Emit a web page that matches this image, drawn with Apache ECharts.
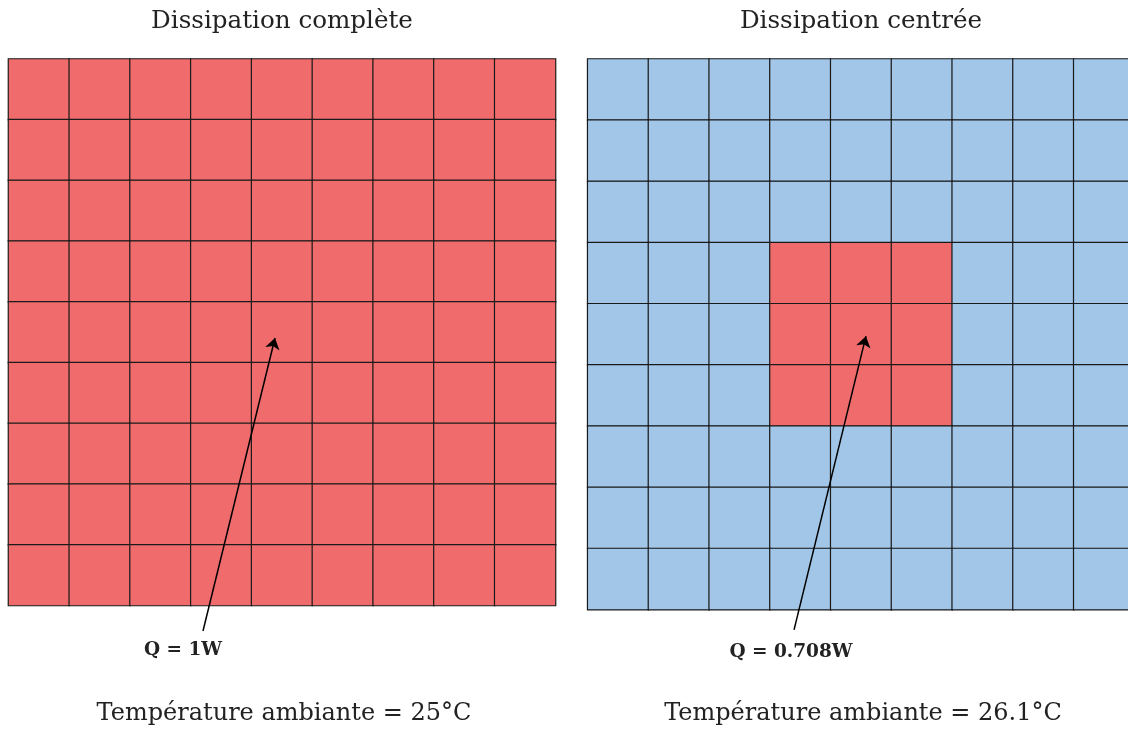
<!DOCTYPE html>
<html><head><meta charset="utf-8">
<script src="https://cdn.jsdelivr.net/npm/echarts@6/dist/echarts.min.js"></script>
<style>html,body{margin:0;padding:0;background:#fff}#c{width:1128px;height:729px}</style>
</head><body><div id="c"></div>
<script>
// ---- data ----
const columns = ['1','2','3','4','5','6','7','8','9'];
const rows = ['1','2','3','4','5','6','7','8','9'];
// 1 = dissipating cell, 0 = passive cell
const fullDissipation = [
  [1,1,1,1,1,1,1,1,1],
  [1,1,1,1,1,1,1,1,1],
  [1,1,1,1,1,1,1,1,1],
  [1,1,1,1,1,1,1,1,1],
  [1,1,1,1,1,1,1,1,1],
  [1,1,1,1,1,1,1,1,1],
  [1,1,1,1,1,1,1,1,1],
  [1,1,1,1,1,1,1,1,1],
  [1,1,1,1,1,1,1,1,1]
];
const centredDissipation = [
  [0,0,0,0,0,0,0,0,0],
  [0,0,0,0,0,0,0,0,0],
  [0,0,0,0,0,0,0,0,0],
  [0,0,0,1,1,1,0,0,0],
  [0,0,0,1,1,1,0,0,0],
  [0,0,0,1,1,1,0,0,0],
  [0,0,0,0,0,0,0,0,0],
  [0,0,0,0,0,0,0,0,0],
  [0,0,0,0,0,0,0,0,0]
];
const panelTitles = ['Dissipation complète', 'Dissipation centrée'];
const powerLabels = ['Q = 1W', 'Q = 0.708W'];
const ambientLabels = ['Température ambiante = 25°C', 'Température ambiante = 26.1°C'];
// arrows in grid-cell units (x from left, y from bottom): [start, end]
const arrowFull = [[3.2, -0.42], [4.385, 4.405]];
const arrowCentred = [[3.396, -0.33], [4.58, 4.47]];

// ---- layout ----
const grids = [
  {left: 8.5, top: 59, width: 547, height: 546.5, outerBoundsMode: 'none', containLabel: false},
  {left: 587.7, top: 59, width: 546.8, height: 550.7, outerBoundsMode: 'none', containLabel: false}
];
const gridCentres = [282, 861];
const RED = '#F06C6C', BLUE = '#A1C6E8';
const serif = '"DejaVu Serif", "Liberation Serif", serif';

function toCells(m){
  const out = [];
  m.forEach((r, ri) => r.forEach((v, ci) => out.push([ci, ri, v])));
  return out;
}

const xAxis = [], yAxis = [];
grids.forEach((g, i) => {
  xAxis.push({type:'category', data: columns, gridIndex: i, show:false});
  yAxis.push({type:'category', data: rows, gridIndex: i, inverse:true, show:false});
});
grids.forEach((g, i) => {
  xAxis.push({type:'value', min:0, max:9, gridIndex:i, position:'top', show:false});
  yAxis.push({type:'value', min:0, max:9, gridIndex:i, position:'right', show:false});
});

const graphics = [];
grids.forEach((g, i) => {
  const cx = gridCentres[i];
  graphics.push({type:'text', x: cx, y: 22, style:{text: panelTitles[i], font: '24.6px ' + serif, fill:'#222', textAlign:'center', textVerticalAlign:'middle'}});
  graphics.push({type:'text', x: cx + 2, y: 714, style:{text: ambientLabels[i], font: '24px ' + serif, fill:'#222', textAlign:'center', textVerticalAlign:'middle'}});
});
graphics.push({type:'text', x: 183, y: 650, style:{text: powerLabels[0], font: 'bold 18.5px ' + serif, fill:'#222', textAlign:'center', textVerticalAlign:'middle'}});
graphics.push({type:'text', x: 791, y: 652, style:{text: powerLabels[1], font: 'bold 18.5px ' + serif, fill:'#222', textAlign:'center', textVerticalAlign:'middle'}});

const cellStyle = {borderColor:'#1a1a1a', borderWidth:1.2};
const option = {
  animation:false,
  backgroundColor:'#fff',
  grid: grids,
  xAxis, yAxis,
  visualMap: {type:'piecewise', show:false, seriesIndex:[0,1], dimension:2,
    pieces:[{value:0, color:BLUE},{value:1, color:RED}]},
  series: [
    {type:'heatmap', xAxisIndex:0, yAxisIndex:0, data: toCells(fullDissipation), itemStyle: cellStyle, emphasis:{disabled:true}},
    {type:'heatmap', xAxisIndex:1, yAxisIndex:1, data: toCells(centredDissipation), itemStyle: cellStyle, emphasis:{disabled:true}},
    {type:'lines', coordinateSystem:'cartesian2d', xAxisIndex:2, yAxisIndex:2, clip:false,
     symbol:['none','arrow'], symbolSize:[0,11], lineStyle:{color:'#000', width:1.5, opacity:1},
     data:[{coords: arrowFull}]},
    {type:'lines', coordinateSystem:'cartesian2d', xAxisIndex:3, yAxisIndex:3, clip:false,
     symbol:['none','arrow'], symbolSize:[0,11], lineStyle:{color:'#000', width:1.5, opacity:1},
     data:[{coords: arrowCentred}]}
  ],
  graphic: graphics
};
const chart = echarts.init(document.getElementById('c'), null, {renderer:'canvas'});
chart.setOption(option);
</script></body></html>
